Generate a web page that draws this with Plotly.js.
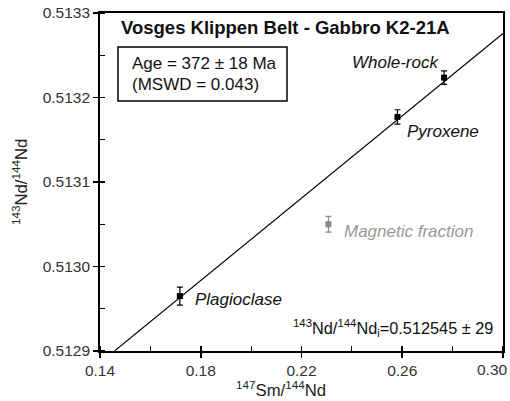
<!DOCTYPE html>
<html><head><meta charset="utf-8">
<script src="https://cdn.plot.ly/plotly-3.0.1.min.js"></script>
<style>body{margin:0;padding:0;background:#fff}#chart{width:510px;height:401px}</style>
</head><body><div id="chart"></div>
<script>
// Data
const fractions = ["Plagioclase", "Pyroxene", "Whole-rock"];
const smNd = [0.1717, 0.2581, 0.2766];
const ndNd = [0.512965, 0.513177, 0.5132235];
const ndErr = [0.0000107, 0.0000085, 0.000008];

const magLabel = ["Magnetic fraction"];
const magSmNd = [0.2307];
const magNdNd = [0.51305];
const magErr = [0.0000093];

// Isochron end points
const isoX = [0.1459, 0.30];
const isoY = [0.5129004, 0.5132757];

const xTicks = [0.14, 0.18, 0.22, 0.26, 0.30];
const xTickText = ["0.14", "0.18", "0.22", "0.26", "0.30"];
const yTicks = [0.5129, 0.5130, 0.5131, 0.5132, 0.5133];

const FONT = "Liberation Sans, Arial, sans-serif";
const TXT = 17;

const traces = [
  {x: isoX, y: isoY, mode: "lines", line: {color: "#000", width: 1.2}, hoverinfo: "skip", cliponaxis: true},
  {x: smNd, y: ndNd, text: fractions, mode: "markers", marker: {symbol: "square", size: 6, color: "#000"},
   error_y: {type: "data", array: ndErr, visible: true, color: "#000", thickness: 1.2, width: 3}},
  {x: magSmNd, y: magNdNd, text: magLabel, mode: "markers", marker: {symbol: "square", size: 6, color: "#888"},
   error_y: {type: "data", array: magErr, visible: true, color: "#888", thickness: 1.2, width: 3}},
  {x: [xTicks[0]], y: [yTicks[0]], xaxis: "x2", yaxis: "y2", mode: "markers", marker: {opacity: 0}, hoverinfo: "skip"}
];

const axBase = {showgrid: false, zeroline: false, linecolor: "#000", linewidth: 1.8, tickcolor: "#000", tickwidth: 1.8,
  ticklabeloverflow: "allow", automargin: false};

const layout = {
  width: 510, height: 401,
  margin: {l: 100, r: 7, t: 13, b: 50},
  showlegend: false,
  paper_bgcolor: "#fff", plot_bgcolor: "#fff",
  font: {family: FONT, size: 15, color: "#222"},
  xaxis: Object.assign({}, axBase, {
    range: [0.14, 0.30], tickmode: "array", tickvals: xTicks,
    ticktext: xTickText.slice(0, xTickText.length - 1).concat([""]),
    ticks: "outside", ticklen: 5, mirror: true,
    minor: {ticks: "inside", dtick: 0.02, tick0: 0.14, ticklen: 5, tickcolor: "#000", tickwidth: 1.2},
    tickfont: {size: 15.5, color: "#333"}
  }),
  yaxis: Object.assign({}, axBase, {
    range: [0.5129, 0.5133], tickvals: yTicks, tickformat: ".4f", ticks: "outside", ticklen: 5,
    mirror: true,
    minor: {ticks: "inside", dtick: 0.00005, tick0: 0.5129, ticklen: 5, tickcolor: "#000", tickwidth: 1.2},
    tickfont: {size: 15.5, color: "#333"}
  }),
  xaxis2: {overlaying: "x", anchor: "y", side: "bottom", range: [0.14, 0.30], tickvals: xTicks,
    ticks: "inside", ticklen: 5, tickwidth: 1.8, tickcolor: "#000", showticklabels: false,
    showgrid: false, zeroline: false, showline: false},
  yaxis2: {overlaying: "y", anchor: "x", side: "left", range: [0.5129, 0.5133], tickvals: yTicks,
    ticks: "inside", ticklen: 5, tickwidth: 1.8, tickcolor: "#000", showticklabels: false,
    showgrid: false, zeroline: false, showline: false},
  shapes: [
    {type: "rect", xref: "paper", yref: "paper", x0: 0.0447, x1: 0.464, y0: 0.74, y1: 0.8994,
     line: {color: "#000", width: 1.5}, fillcolor: "rgba(0,0,0,0)"}
  ],
  annotations: [
    {xref: "paper", yref: "paper", x: 1.0165, y: -0.054, xanchor: "right", yanchor: "middle", showarrow: false,
     text: xTickText[xTickText.length - 1], font: {size: 15.5, color: "#333"}},
    {xref: "paper", yref: "paper", x: 0.449, y: -0.112, xanchor: "center", yanchor: "middle", showarrow: false,
     text: "<sup>147</sup>Sm/<sup>144</sup>Nd", font: {size: 16.7, color: "#222"}},
    {xref: "paper", yref: "paper", x: -0.1985, y: 0.5, xanchor: "center", yanchor: "middle", showarrow: false,
     textangle: -90, text: "<sup>143</sup>Nd/<sup>144</sup>Nd", font: {size: 16.7, color: "#222"}},
    {xref: "paper", yref: "paper", x: 0.047, y: 0.958, xanchor: "left", yanchor: "middle", showarrow: false,
     text: "<b>Vosges Klippen Belt - Gabbro K2-21A</b>", font: {size: 18.5, color: "#111"}},
    {xref: "paper", yref: "paper", x: 0.074, y: 0.852, xanchor: "left", yanchor: "middle", showarrow: false,
     text: "Age = 372 ± 18 Ma", font: {size: TXT, color: "#111"}},
    {xref: "paper", yref: "paper", x: 0.074, y: 0.787, xanchor: "left", yanchor: "middle", showarrow: false,
     text: "(MSWD = 0.043)", font: {size: TXT, color: "#111"}},
    {xref: "paper", yref: "paper", x: 0.620, y: 0.855, xanchor: "left", yanchor: "middle", showarrow: false,
     text: "<i>" + fractions[2] + "</i>", font: {size: TXT, color: "#111"}},
    {xref: "paper", yref: "paper", x: 0.757, y: 0.648, xanchor: "left", yanchor: "middle", showarrow: false,
     text: "<i>" + fractions[1] + "</i>", font: {size: TXT, color: "#111"}},
    {xref: "paper", yref: "paper", x: 0.600, y: 0.355, xanchor: "left", yanchor: "middle", showarrow: false,
     text: "<i>" + magLabel[0] + "</i>", font: {size: TXT, color: "#999"}},
    {xref: "paper", yref: "paper", x: 0.231, y: 0.151, xanchor: "left", yanchor: "middle", showarrow: false,
     text: "<i>" + fractions[0] + "</i>", font: {size: TXT, color: "#111"}},
    {xref: "paper", yref: "paper", x: 0.474, y: 0.068, xanchor: "left", yanchor: "middle", showarrow: false,
     text: "<sup>143</sup>Nd/<sup>144</sup>Nd<sub>i</sub>=0.512545 ± 29", font: {size: 16.3, color: "#111"}}
  ]
};

Plotly.newPlot("chart", traces, layout, {staticPlot: true, displayModeBar: false});
</script></body></html>
